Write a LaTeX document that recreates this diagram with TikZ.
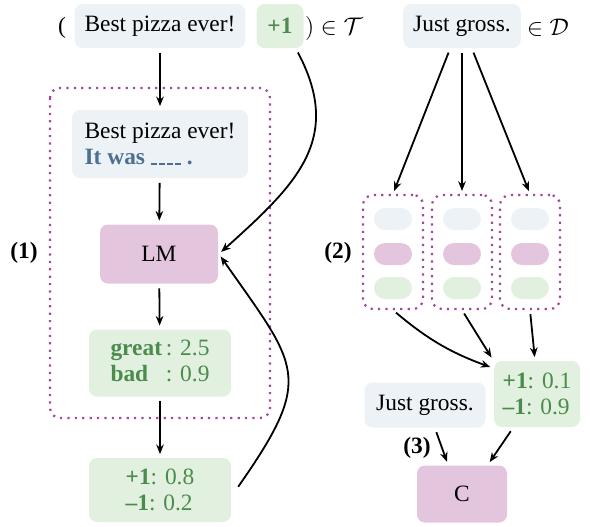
\documentclass[tikz,border=0pt]{standalone}
\usepackage{fontspec}
\setmainfont{Liberation Serif}
\usetikzlibrary{arrows.meta}
\definecolor{sentfill}{HTML}{EDF2F7}
\definecolor{labfill}{HTML}{E2F0E0}
\definecolor{modfill}{HTML}{E3C6DE}
\definecolor{labtext}{HTML}{4B8B4B}
\definecolor{pattext}{HTML}{4C7091}
\definecolor{dotpurple}{HTML}{A4479E}
\newcommand{\blankslot}{\rule{3pt}{0.6pt}\kern1pt\rule{3pt}{0.6pt}\kern1pt\rule{3pt}{0.6pt}\kern1pt\rule{3pt}{0.6pt}}
\tikzset{
  sent/.style={fill=sentfill, rounded corners=4pt, inner xsep=5pt, minimum height=22pt},
  lab/.style={fill=labfill, rounded corners=4pt, text=labtext, minimum height=22pt},
  model/.style={fill=modfill, rounded corners=4pt},
  pill/.style={rounded corners=5.5pt, minimum width=19pt, minimum height=11pt, inner sep=0pt},
  dotbox/.style={draw=dotpurple, line width=1.1pt, dash pattern=on 1.1pt off 2.6pt, rounded corners=5pt},
  flow/.style={->, shorten <=2pt, shorten >=1.5pt},
}
\begin{document}
\begin{tikzpicture}[>={Stealth[length=4.8pt,width=3.8pt]}, x=0.5pt, y=-0.5pt, line width=0.9pt, font=\fontsize{11.7}{13}\selectfont]
    \useasboundingbox (0,0) rectangle (590,526);
    % left: pattern, LM, verbalizer
    \node (lpar) at (62,28) {(};
    \node[sent] (xt) at (160,26) {Best pizza ever!};
    \node[lab, minimum width=23.5pt] (yt) at (280,26) {\textbf{+1}};
    \node (inT) at (334,28) {$)\in\mathcal{T}$};
    \draw[dotbox] (50,88) rectangle (270,418);
    \node (step1) at (24,253) {\textbf{(1)}};
    \node[sent, align=left, minimum width=88pt, minimum height=34pt] (prompt) at (160,144)
        {Best pizza ever!\\ \textcolor{pattext}{\textbf{It was} \blankslot\ \textbf{.}}};
    \node[model, minimum width=59pt, minimum height=29.5pt] (lm) at (159,254) {LM};
    \node[lab, minimum width=71pt, minimum height=33.5pt] (words) at (160,363)
        {\begin{tabular}{@{}l@{\,}l@{}}\textbf{great} & : 2.5\\ \textbf{bad} & : 0.9\end{tabular}};
    \node[lab, align=left, minimum width=71pt, minimum height=32pt] (probs) at (160,490)
        {\textbf{+1}: 0.8\\ \textbf{\textendash1}: 0.2};
    \draw[flow] (xt) -- (prompt);
    \draw[flow] (prompt) -- (lm);
    \draw[flow] (lm) -- (words);
    \draw[flow] (words) -- (probs);
    \draw[flow] ([xshift=8pt]yt.south) to[out=-62, in=42, looseness=1.2] (lm.east);
    \draw[flow] ([xshift=2pt]probs.east) to[out=55, in=-55, looseness=1.5] (lm.east);
    % right: unlabeled data, ensemble, classifier
    \node[sent] (xd) at (462,26) {Just gross.};
    \node (inD) at (548,28) {$\in\mathcal{D}$};
    \node (step2) at (338,253) {\textbf{(2)}};
    \foreach \i/\x in {1/393,2/462,3/530}{
        \node[dotbox, minimum width=30pt, minimum height=57pt] (cand\i) at (\x,252) {};
        \node[pill, fill=sentfill] (cand\i x) at (\x,219) {};
        \node[pill, fill=modfill] (cand\i m) at (\x,254) {};
        \node[pill, fill=labfill] (cand\i y) at (\x,288) {};
    }
    \node[lab, align=left, minimum width=43pt, minimum height=33pt] (pseudo) at (537,394)
        {\textbf{+1}: 0.1\\ \textbf{\textendash1}: 0.9};
    \node[sent, minimum width=60.5pt, minimum height=22.5pt] (xd2) at (425,405) {Just gross.};
    \node[model, minimum width=45pt, minimum height=28.5pt] (clf) at (462,494) {C};
    \node (step3) at (417,448) {\textbf{(3)}};
    \draw[flow] ([xshift=-6pt]xd.south) -- (cand1.north);
    \draw[flow] (xd.south) -- (cand2.north);
    \draw[flow] ([xshift=5pt]xd.south) -- (cand3.north);
    \draw[flow] (cand1.south) to[bend right=10] ([yshift=-4pt]pseudo.north west);
    \draw[flow] (cand2.south) -- (pseudo.north west);
    \draw[flow] (cand3.south) -- ([xshift=-1pt]pseudo.north);
    \draw[flow] ([xshift=5pt]xd2.south) -- ([xshift=-7pt]clf.north);
    \draw[flow] ([xshift=-12pt]pseudo.south) -- ([xshift=13pt]clf.north);
\end{tikzpicture}
\end{document}
